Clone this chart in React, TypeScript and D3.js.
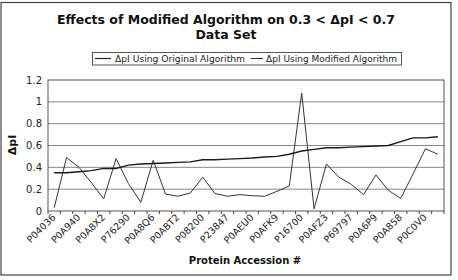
import React from "react";
import * as d3 from "d3";

const tickLabels = ["P04036","P0A940","P0A8X2","P76290","P0A8Q6","P0ABT2","P08200","P23847","P0AEU0","P0AFK9","P16700","P0AFZ3","P69797","P0A6P9","P0A858","P0C0V0"];
const originalValues = [0.35,0.35,0.36,0.37,0.39,0.39,0.42,0.43,0.435,0.44,0.445,0.45,0.47,0.47,0.475,0.48,0.485,0.495,0.5,0.52,0.55,0.565,0.58,0.58,0.585,0.59,0.595,0.6,0.635,0.67,0.67,0.68];
const modifiedValues = [0.03,0.49,0.4,0.26,0.11,0.48,0.25,0.08,0.465,0.155,0.135,0.165,0.31,0.16,0.135,0.15,0.14,0.135,0.18,0.23,1.08,0.02,0.43,0.31,0.245,0.15,0.33,0.19,0.115,0.34,0.57,0.52];
const yTicks = [0,0.2,0.4,0.6,0.8,1,1.2];
const seriesNames = ["ΔpI Using Original Algorithm","ΔpI Using Modified Algorithm"];

export default function App() {
  const W = 458, H = 280;
  const left = 48, right = 444, top = 80, bottom = 211;
  const n = originalValues.length;
  const x = d3.scaleBand<number>().domain(d3.range(n)).range([left, right]);
  const y = d3.scaleLinear().domain([0, 1.2]).range([bottom, top]);
  const cx = (i: number) => (x(i) as number) + x.bandwidth() / 2;
  const line = d3.line<number>().x((_, i) => cx(i)).y(d => y(d));
  const font = "'DejaVu Sans', Verdana, sans-serif";
  return (
    <svg width={W} height={H} style={{ position: "absolute", left: 0, top: 0 }} fontFamily={font}>
      <rect x={0} y={0} width={W} height={H} fill="#fff" />
      <rect x={1} y={2.5} width={450} height={272.5} fill="none" stroke="#444" strokeWidth={1.2} />
      <text x={226} y={24} textAnchor="middle" fontSize={12.5} fontWeight="bold" fill="#111">Effects of Modified Algorithm on 0.3 &lt; ΔpI &lt; 0.7</text>
      <text x={226} y={39} textAnchor="middle" fontSize={12.5} fontWeight="bold" fill="#111">Data Set</text>
      <rect x={92.5} y={52.5} width={309} height={12.5} fill="#fff" stroke="#555" strokeWidth={1} />
      <line x1={95} x2={111} y1={58.5} y2={58.5} stroke="#222" strokeWidth={1.2} />
      <text x={115} y={62} fontSize={8.8} textLength={130} lengthAdjust="spacingAndGlyphs" fill="#222">{seriesNames[0]}</text>
      <line x1={251} x2={263} y1={58.5} y2={58.5} stroke="#333" strokeWidth={1} />
      <text x={266} y={62} fontSize={8.8} textLength={131} lengthAdjust="spacingAndGlyphs" fill="#222">{seriesNames[1]}</text>
      {yTicks.map(t => (
        <g key={t}>
          {t > 0 && t < 1.2 && <line x1={left} x2={right} y1={y(t)} y2={y(t)} stroke="#888" strokeWidth={1} />}
          <text x={42} y={y(t) + 3.5} textAnchor="end" fontSize={10} fill="#222">{t}</text>
        </g>
      ))}
      <rect x={left} y={top} width={right - left} height={bottom - top} fill="none" stroke="#555" strokeWidth={1} />
      {d3.range(n + 1).map(i => {
        const xx = left + i * x.step();
        return <line key={i} x1={xx} x2={xx} y1={bottom} y2={bottom + 3} stroke="#444" />;
      })}
      <path d={line(modifiedValues) || ""} fill="none" stroke="#333" strokeWidth={1} />
      <path d={line(originalValues) || ""} fill="none" stroke="#1a1a1a" strokeWidth={1.4} />
      {tickLabels.map((lab, k) => {
        const i = k * 2;
        const px = cx(i) + 2, py = 218;
        return <text key={lab} x={px} y={py} transform={`rotate(-45 ${px} ${py})`} textAnchor="end" fontSize={9.5} fill="#222">{lab}</text>;
      })}
      <text x={16} y={145} transform="rotate(-90 16 145)" textAnchor="middle" fontSize={11} fontWeight="bold" fill="#111">ΔpI</text>
      <text x={245} y={264} textAnchor="middle" fontSize={10} fontWeight="bold" fill="#111">Protein Accession #</text>
    </svg>
  );
}
